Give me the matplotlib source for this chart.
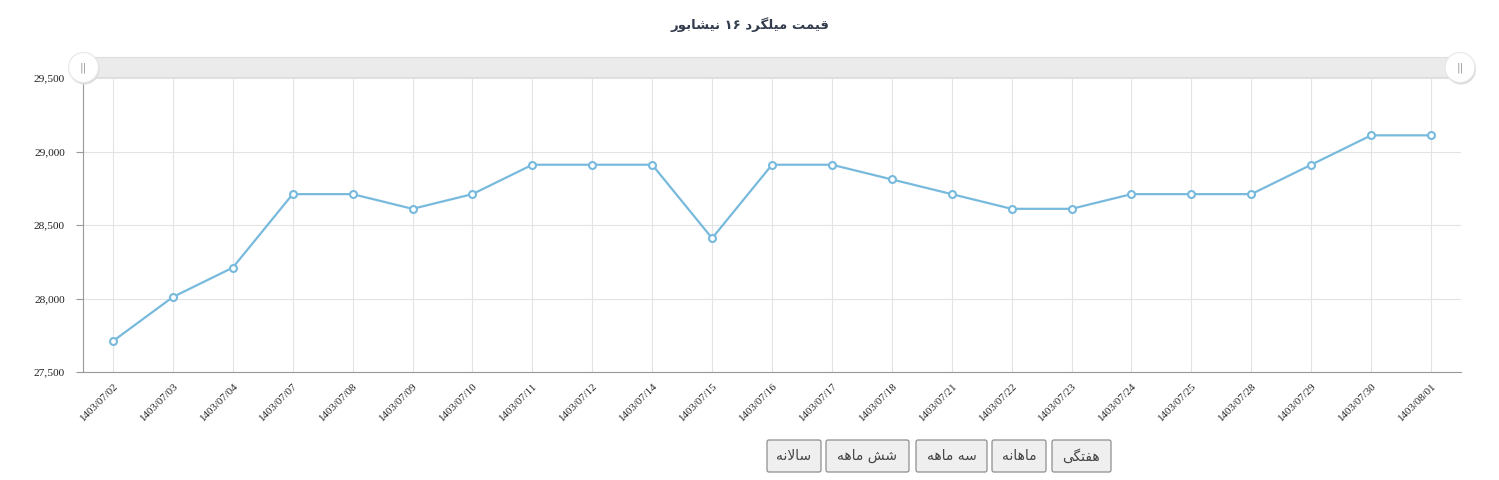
"line chart: rebar price (16mm, Neyshabur)"
import matplotlib
matplotlib.use("Agg")
import matplotlib.pyplot as plt
from matplotlib.patches import Rectangle, Circle, FancyBboxPatch

dates = ["1403/07/02", "1403/07/03", "1403/07/04", "1403/07/07", "1403/07/08",
         "1403/07/09", "1403/07/10", "1403/07/11", "1403/07/12", "1403/07/14",
         "1403/07/15", "1403/07/16", "1403/07/17", "1403/07/18", "1403/07/21",
         "1403/07/22", "1403/07/23", "1403/07/24", "1403/07/25", "1403/07/28",
         "1403/07/29", "1403/07/30", "1403/08/01"]
prices = [27710, 28010, 28210, 28710, 28710, 28610, 28710, 28910, 28910, 28910,
          28410, 28910, 28910, 28810, 28710, 28610, 28610, 28710, 28710, 28710,
          28910, 29110, 29110]
yticks = [27500, 28000, 28500, 29000, 29500]
title = "قیمت میلگرد ۱۶ نیشابور"
buttons = ["سالانه", "شش ماهه", "سه ماهه", "ماهانه", "هفتگی"]

# no text shaping in matplotlib, so pick presentation forms by hand
# (isolated, final, initial, medial)
FORMS = {
    "ا": ("\uFE8D", "\uFE8E", None, None),
    "ب": ("\uFE8F", "\uFE90", "\uFE91", "\uFE92"),
    "ت": ("\uFE95", "\uFE96", "\uFE97", "\uFE98"),
    "د": ("\uFEA9", "\uFEAA", None, None),
    "ر": ("\uFEAD", "\uFEAE", None, None),
    "س": ("\uFEB1", "\uFEB2", "\uFEB3", "\uFEB4"),
    "ش": ("\uFEB5", "\uFEB6", "\uFEB7", "\uFEB8"),
    "ف": ("\uFED1", "\uFED2", "\uFED3", "\uFED4"),
    "ق": ("\uFED5", "\uFED6", "\uFED7", "\uFED8"),
    "ل": ("\uFEDD", "\uFEDE", "\uFEDF", "\uFEE0"),
    "م": ("\uFEE1", "\uFEE2", "\uFEE3", "\uFEE4"),
    "ن": ("\uFEE5", "\uFEE6", "\uFEE7", "\uFEE8"),
    "ه": ("\uFEE9", "\uFEEA", "\uFEEB", "\uFEEC"),
    "و": ("\uFEED", "\uFEEE", None, None),
    "گ": ("\uFB92", "\uFB93", "\uFB94", "\uFB95"),
    "ی": ("\uFBFC", "\uFBFD", "\uFBFE", "\uFBFF"),
}


def shape(text):
    out = []
    i = 0
    while i < len(text):
        c = text[i]
        prev = text[i - 1] if i > 0 else ""
        jp = prev in FORMS and FORMS[prev][2] is not None
        nxt = text[i + 1] if i + 1 < len(text) else ""
        if c == "ل" and nxt == "ا":
            out.append("\uFEFC" if jp else "\uFEFB")
            i += 2
            continue
        if c not in FORMS:
            out.append(c)
            i += 1
            continue
        jn = nxt in FORMS and FORMS[c][2] is not None
        iso, fin, ini, med = FORMS[c]
        out.append(med if jp and jn else fin if jp else ini if jn else iso)
        i += 1
    # visual order: reverse, but keep digit runs left-to-right
    runs, cur = [], ""
    for ch in out:
        if cur and (ch.isdigit() != cur[-1].isdigit()):
            runs.append(cur)
            cur = ""
        cur += ch
    runs.append(cur)
    return "".join(r if r[0].isdigit() else r[::-1] for r in reversed(runs))


W, H = 1499, 480
fig = plt.figure(figsize=(W / 100, H / 100), dpi=100)
ax = fig.add_axes([83 / W, 1 - 372 / H, (1461 - 83) / W, (372 - 78) / H])

x = list(range(len(dates)))
ax.plot(x, prices, color="#78badd", lw=1.6, marker="o", ms=5,
        mfc="white", mec="#78badd", mew=1.5, zorder=3)

ax.set_xlim(-0.5, len(dates) - 0.5)
ax.set_ylim(27500, 29500)
ax.set_yticks(yticks)
ax.set_yticklabels([f"{v:,}" for v in yticks], fontfamily="Liberation Serif",
                   fontsize=8.2, color="#222222")
ax.set_xticks(x)
ax.set_xticklabels(dates, rotation=45, ha="right", va="top",
                   rotation_mode="anchor", fontfamily="Liberation Serif",
                   fontsize=7.8, color="#222222")
ax.tick_params(axis="x", length=0, pad=7)
ax.tick_params(axis="y", length=5, color="#999999", pad=8)
ax.grid(True, color="#e3e3e3", lw=0.8)
ax.set_axisbelow(True)
for s in ["top", "right"]:
    ax.spines[s].set_visible(False)
for s in ["left", "bottom"]:
    ax.spines[s].set_color("#999999")
    ax.spines[s].set_linewidth(0.8)

# overlay in pixel units for title, zoom bar and buttons
ov = fig.add_axes([0, 0, 1, 1], zorder=5)
ov.set_xlim(0, W)
ov.set_ylim(H, 0)
ov.axis("off")
ov.patch.set_visible(False)

ov.text(750, 25, shape(title), ha="center", va="center", fontsize=9.5,
        fontweight="bold", color="#333d4d", family="DejaVu Sans")

ov.add_patch(Rectangle((83, 57), 1377, 20, fc="#ebebeb", ec="#dddddd", lw=0.8))
for hx in [83.5, 1460]:
    ov.add_patch(Circle((hx + 1, 69.5), 15, fc="#dcdcdc", ec="none"))
    ov.add_patch(Circle((hx, 67.5), 15, fc="white", ec="#e6e6e6", lw=0.8))
    ov.text(hx, 67.5, "||", ha="center", va="center", fontsize=8, color="#999999")

btn_x = [(767, 821), (826, 909), (916, 987), (992, 1046), (1052, 1111)]
for (x0, x1), lab in zip(btn_x, buttons):
    ov.add_patch(FancyBboxPatch((x0, 440), x1 - x0, 32,
                                boxstyle="round,pad=0,rounding_size=2",
                                fc="#efefef", ec="#8f8f8f", lw=0.9))
    ov.text((x0 + x1) / 2, 456, shape(lab), ha="center", va="center",
            fontsize=10, color="#444444", family="DejaVu Sans")

fig.savefig("out.png", dpi=100, facecolor="white")
